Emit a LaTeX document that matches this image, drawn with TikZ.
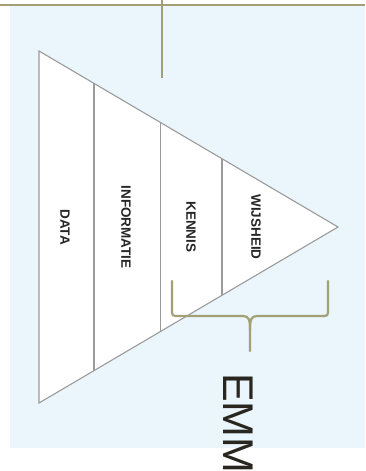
\documentclass[tikz,border=0pt]{standalone}
\usepackage{fontspec}
\setmainfont{Liberation Sans}
\usetikzlibrary{calc,positioning}
\definecolor{cOlive}{RGB}{163,160,118}
\definecolor{cSky}{RGB}{234,245,252}
\definecolor{cEdge}{RGB}{155,155,155}
\definecolor{cInk}{RGB}{38,38,38}
\definecolor{cTitle}{RGB}{40,38,30}
\tikzset{
  lvl/.style={font=\bfseries\fontsize{13.5}{13.5}\selectfont, text=cInk,
              rotate=-90, inner sep=0pt},
  rim/.style={draw=cEdge, line width=1.1pt},
  olv/.style={draw=cOlive, line width=2pt},
  olvb/.style={draw=cOlive, line width=2.2pt, line cap=round},
}

\begin{document}
\begin{tikzpicture}[x=1pt, y=-1pt]
\useasboundingbox (0,0) rectangle (365,471);
% backdrop
\fill[cSky] (10,6) rectangle (365,448);
\draw[olv] (0,5) -- (365,5);
\coordinate (stemtop) at (161.5,0);
\coordinate (stemend) at (161.5,78);
\draw[olv] (stemtop) -- (stemend);

% triangle
\coordinate (tl) at (39,51);
\coordinate (bl) at (39,403);
\coordinate (apex) at (338,227);
\filldraw[rim, fill=white] (tl) -- (apex) -- (bl) -- cycle;
\foreach \t in {0.184,0.405,0.612}
  \draw[rim] ($(tl)!\t!(apex)$) -- ($(bl)!\t!(apex)$);

% levels
\node[lvl] (data) at (65,227) {DATA};
\node[lvl] (info) at (126,227) {INFORMATIE};
\node[lvl] (kennis) at (191,227) {KENNIS};
\node[lvl] (wijs) at (256,227) {WIJSHEID};

% brace
\coordinate (bra) at (172,281);
\coordinate (brb) at (328,281);
\coordinate (btip) at (250,351);
\draw[olvb] (bra) -- (172,309) .. controls (172,316) .. (179,316) -- (243,316)
  .. controls (249,316) and (250,320) .. (250,330) -- (btip);
\draw[olvb] (brb) -- (328,309) .. controls (328,316) .. (321,316) -- (257,316)
  .. controls (251,316) and (250,320) .. (250,330);

\node[font=\fontsize{43}{43}\selectfont, text=cTitle, rotate=-90,
      anchor=west, inner sep=0pt] (emm) at (238,373) {EMM};
\end{tikzpicture}
\end{document}
